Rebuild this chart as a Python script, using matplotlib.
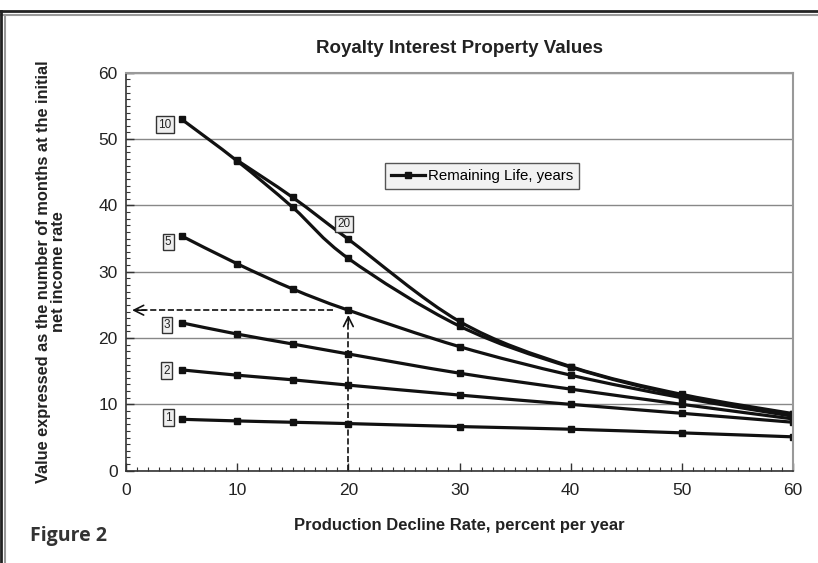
import numpy as np
import matplotlib
matplotlib.use('Agg')
import matplotlib.pyplot as plt
from matplotlib.path import Path
from matplotlib.patches import PathPatch
from matplotlib.lines import Line2D
from matplotlib.ticker import MultipleLocator

plt.rcParams['font.family'] = ['Liberation Sans', 'DejaVu Sans']

# decline rate, percent per year
rate = [5, 10, 15, 20, 30, 40, 50, 60]
rate_20 = [10, 15, 20, 30, 40, 50, 60]

# value in months of initial net income, by remaining life (years)
life_1 = [7.75, 7.5, 7.3, 7.1, 6.65, 6.25, 5.7, 5.1]
life_2 = [15.2, 14.4, 13.7, 12.9, 11.4, 10.0, 8.65, 7.3]
life_3 = [22.3, 20.6, 19.1, 17.6, 14.7, 12.3, 10.0, 7.8]
life_5 = [35.4, 31.2, 27.4, 24.2, 18.7, 14.4, 11.0, 8.2]
life_10 = [53.0, 46.7, 39.7, 32.0, 21.8, 15.6, 11.3, 8.5]
life_20 = [46.8, 41.2, 34.9, 22.5, 15.7, 11.5, 8.6]

series = [(rate, life_1, '1'), (rate, life_2, '2'), (rate, life_3, '3'),
          (rate, life_5, '5'), (rate, life_10, '10'), (rate_20, life_20, '20')]

# where the label boxes sit (data coords)
label_pos = {'1': (3.8, 8.0), '2': (3.65, 15.1), '3': (3.7, 22.0),
             '5': (3.8, 34.5), '10': (3.5, 52.2), '20': (19.6, 37.2)}

read_rate = 20  # example reading on the 5 year curve


def smooth_path(xs, ys):
    # excel-like smoothed line: catmull-rom as cubic beziers
    pts = np.column_stack([xs, ys]).astype(float)
    n = len(pts)
    verts = [pts[0]]
    codes = [Path.MOVETO]
    for i in range(n - 1):
        p0 = pts[i - 1] if i > 0 else pts[i]
        p1 = pts[i]
        p2 = pts[i + 1]
        p3 = pts[i + 2] if i + 2 < n else pts[i + 1]
        verts += [p1 + (p2 - p0) / 6, p2 - (p3 - p1) / 6, p2]
        codes += [Path.CURVE4] * 3
    return Path(verts, codes)


fig = plt.figure(figsize=(8.18, 5.63), dpi=100)
ax = fig.add_axes([0.154, 0.164, 0.8156, 0.7067])

for xs, ys, name in series:
    ax.add_patch(PathPatch(smooth_path(xs, ys), facecolor='none',
                           edgecolor='#111111', lw=2.3, capstyle='butt'))
    ax.plot(xs, ys, 's', color='#111111', ms=3.8)
    lx, ly = label_pos[name]
    ax.text(lx, ly, name, fontsize=8.5, ha='center', va='center', color='#222222',
            bbox=dict(boxstyle='square,pad=0.18', fc='#eeeeee', ec='#333333', lw=1))

ax.set_xlim(0, 60)
ax.set_ylim(0, 60)
ax.xaxis.set_major_locator(MultipleLocator(10))
ax.xaxis.set_minor_locator(MultipleLocator(1))
ax.yaxis.set_major_locator(MultipleLocator(10))
ax.yaxis.set_minor_locator(MultipleLocator(1))
ax.tick_params(which='both', direction='in', colors='#333333', labelcolor='#222222',
               labelsize=12.5)
ax.tick_params(which='major', length=6, width=1)
ax.tick_params(which='minor', length=3, width=0.8)
ax.tick_params(axis='x', pad=9)
ax.tick_params(axis='y', pad=6)
ax.grid(axis='y', which='major', color='#888888', lw=1)
ax.set_axisbelow(True)
for side in ['top', 'right']:
    ax.spines[side].set_color('#999999')
    ax.spines[side].set_linewidth(1.5)
for side in ['left', 'bottom']:
    ax.spines[side].set_color('#333333')
    ax.spines[side].set_linewidth(1.2)

# dashed reading arrows on the 5 year curve
read_val = life_5[rate.index(read_rate)]
ax.plot([read_rate, read_rate], [0, read_val - 1.5], ls='--', color='#111111', lw=1.2)
ax.annotate('', xy=(read_rate, read_val - 0.3), xytext=(read_rate, read_val - 2.5),
            arrowprops=dict(arrowstyle='->,head_length=0.7,head_width=0.35',
                            color='#111111', lw=1.2))
ax.plot([read_rate - 1.4, 1.0], [read_val, read_val], ls='--', color='#111111', lw=1.2)
ax.annotate('', xy=(0.3, read_val), xytext=(2.0, read_val),
            arrowprops=dict(arrowstyle='->,head_length=0.7,head_width=0.35',
                            color='#111111', lw=1.2))

handle = Line2D([], [], color='#111111', lw=2.3, marker='s', ms=3.8)
ax.legend([handle], ['Remaining Life, years'], loc='upper left',
          bbox_to_anchor=(0.388, 0.773), borderaxespad=0, fontsize=10.8,
          fancybox=False, framealpha=1, facecolor='#f2f2f2', edgecolor='#555555',
          handlelength=2.3, handletextpad=0.15, borderpad=0.4)

ax.set_title('Royalty Interest Property Values', fontsize=13.5, fontweight='bold',
             color='#222222', pad=14.5)
ax.set_xlabel('Production Decline Rate, percent per year', fontsize=12,
              fontweight='bold', color='#222222', labelpad=14)
ax.set_ylabel('Value expressed as the number of months at the initial\nnet income rate',
              fontsize=11.8, fontweight='bold', color='#222222', labelpad=23,
              linespacing=1.0)

fig.text(0.037, 0.048, 'Figure 2', fontsize=14, fontweight='bold', color='#333333',
         family=['Open Sans', 'DejaVu Sans'], va='center')

# page frame lines
fig.add_artist(Line2D([0, 1], [1 - 10.5 / 563] * 2, color='#222222', lw=2))
fig.add_artist(Line2D([0, 1], [1 - 14.5 / 563] * 2, color='#999999', lw=1.5))
fig.add_artist(Line2D([1 / 818] * 2, [0, 1 - 10.5 / 563], color='#222222', lw=2))
fig.add_artist(Line2D([4.5 / 818] * 2, [0, 1 - 14.5 / 563], color='#999999', lw=1.5))

fig.savefig('out.png', dpi=100)
